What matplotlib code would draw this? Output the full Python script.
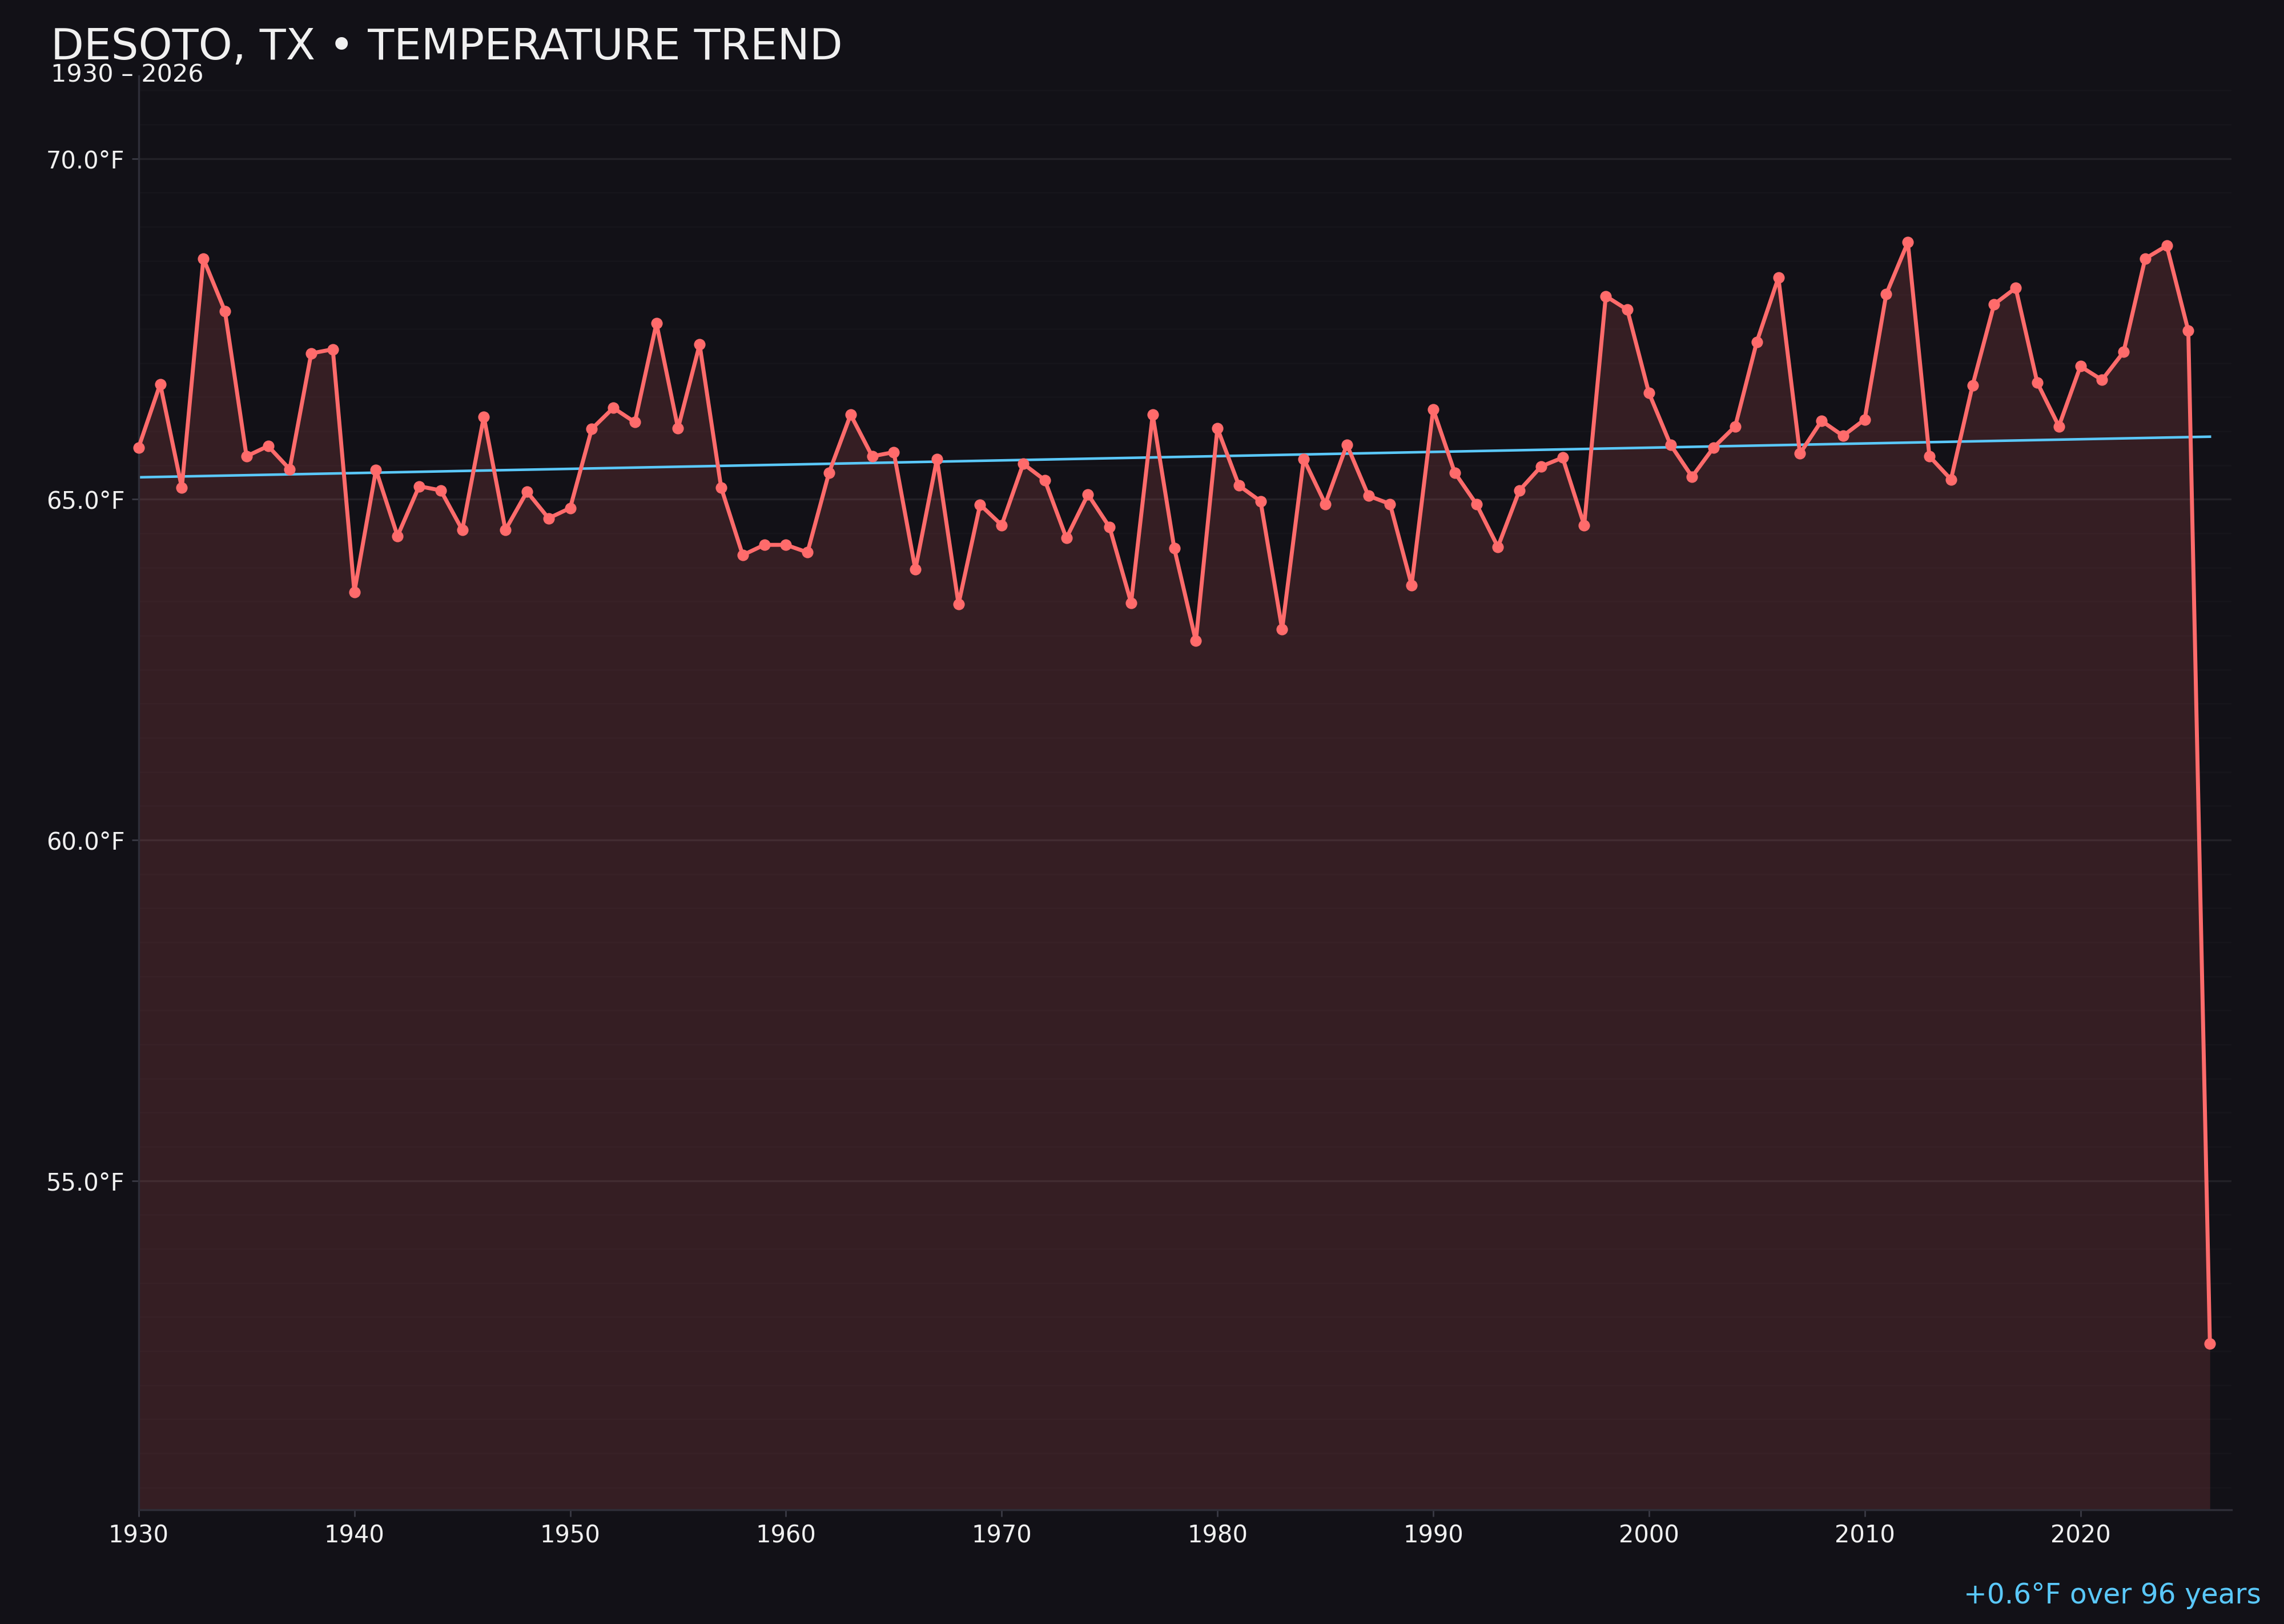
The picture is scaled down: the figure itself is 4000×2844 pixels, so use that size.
import matplotlib
matplotlib.use("Agg")
import matplotlib.pyplot as plt
from matplotlib.ticker import MultipleLocator, FuncFormatter
import numpy as np

years = list(range(1930, 2027))
temps = [
    65.76, 66.69, 65.17, 68.53, 67.76, 65.63, 65.78, 65.44, 67.14, 67.20,  # 1930s
    63.64, 65.43, 64.46, 65.19, 65.13, 64.55, 66.21, 64.55, 65.11, 64.72,  # 1940s
    64.87, 66.03, 66.34, 66.13, 67.58, 66.04, 67.27, 65.17, 64.18, 64.33,  # 1950s
    64.33, 64.22, 65.39, 66.24, 65.63, 65.69, 63.97, 65.59, 63.46, 64.92,  # 1960s
    64.62, 65.52, 65.28, 64.43, 65.07, 64.59, 63.48, 66.24, 64.28, 62.92,  # 1970s
    66.04, 65.20, 64.97, 63.09, 65.59, 64.93, 65.80, 65.05, 64.93, 63.74,  # 1980s
    66.32, 65.39, 64.93, 64.30, 65.13, 65.48, 65.61, 64.62, 67.98, 67.78,  # 1990s
    66.56, 65.80, 65.33, 65.76, 66.07, 67.31, 68.25, 65.67, 66.15, 65.93,  # 2000s
    66.17, 68.01, 68.77, 65.63, 65.29, 66.67, 67.86, 68.10, 66.71, 66.07,  # 2010s
    66.95, 66.75, 67.16, 68.53, 68.72, 67.47, 52.61,                      # 2020s
]
title = "DESOTO, TX \u2022 TEMPERATURE TREND"
subtitle = "1930 \u2013 2026"
trend_note = "+0.6\u00b0F over 96 years"

bg = "#121117"
red = "#ff6b6b"
blue = "#5ac8fa"
txt = "#f0f0f0"

fig = plt.figure(figsize=(16, 11.376), dpi=250, facecolor=bg)
ax = fig.add_axes([0.0607, 0.0703, 0.9163, 0.8829], facecolor=bg)

ax.set_xlim(1930, 2027)
ax.set_ylim(50.17, 71.21)

ax.fill_between(years, temps, 50.17, color=red, alpha=0.15, linewidth=0, zorder=1)
ax.plot(years, temps, color=red, linewidth=2.0, marker="o", markersize=4.8,
        zorder=3, clip_on=False)

# linear trend
k, b = np.polyfit(years, temps, 1)
yy = np.array([years[0], years[-1]])
ax.plot(yy, k * yy + b, color=blue, linewidth=1.3, zorder=2)

ax.xaxis.set_major_locator(MultipleLocator(10))
ax.yaxis.set_major_locator(MultipleLocator(5))
ax.yaxis.set_minor_locator(MultipleLocator(0.5))
ax.yaxis.set_major_formatter(FuncFormatter(lambda v, p: f"{v:.1f}\u00b0F"))

ax.set_axisbelow(True)
ax.grid(axis="y", which="major", color="#ffffff", alpha=0.07, linewidth=1.0)
ax.grid(axis="y", which="minor", color="#ffffff", alpha=0.018, linewidth=0.8)

for s in ["top", "right"]:
    ax.spines[s].set_visible(False)
for s in ["left", "bottom"]:
    ax.spines[s].set_color("#2e2e38")
    ax.spines[s].set_linewidth(1.0)

ax.tick_params(axis="both", which="major", colors="#3a3a44", labelcolor=txt,
               labelsize=12, length=3.5, width=0.8)
ax.tick_params(axis="y", which="minor", length=0)

fig.text(0.0223, 0.9835, title, color=txt, fontsize=21.7, ha="left", va="top")
fig.text(0.0223, 0.9497, subtitle, color=txt, fontsize=12.4, ha="left", va="baseline")
fig.text(0.99, 0.0125, trend_note, color=blue, fontsize=14, ha="right", va="baseline")

fig.savefig("out.png", dpi=250, facecolor=bg)
